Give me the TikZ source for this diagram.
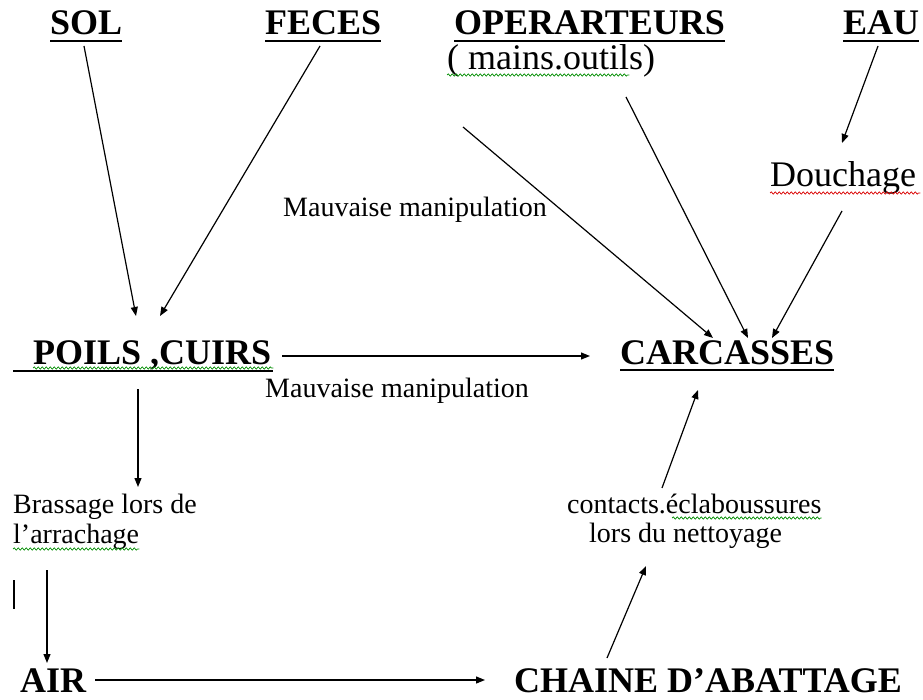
\documentclass[tikz,border=0pt]{standalone}
\usepackage{fontspec}
\setmainfont{Liberation Serif}
\usetikzlibrary{calc,arrows.meta,decorations.pathmorphing}
\tikzset{
  lbl/.style={inner sep=0pt, anchor=base west},
  head/.style={lbl, font=\fontsize{36}{40}\selectfont\bfseries},
  big/.style={lbl, font=\fontsize{36}{40}\selectfont},
  small/.style={lbl, font=\fontsize{28}{32}\selectfont},
  ul/.style={line width=2.4pt},
  arr/.style={line width=1.2pt, -{Triangle[length=9pt,width=7pt]}},
  wavy/.style={line width=0.7pt, decorate, decoration={snake, amplitude=1.1pt, segment length=4pt}},
}
\begin{document}
\begin{tikzpicture}[x=1pt,y=-1pt]
\useasboundingbox (0,0) rectangle (923,700);
% nodes
\node[head] (sol) at (50,35) {SOL};
\node[head] (feces) at (265,35) {FECES};
\node[head] (oper) at (454,35) {OPERARTEURS};
\node[big] (mains) at (447,70) {( mains.outils)};
\node[head] (eau) at (843,35) {EAU};
\node[big] (douch) at (770,187) {Douchage};
\node[small] (mm1) at (283,217) {Mauvaise manipulation};
\node[head] (poils) at (33,364) {POILS ,CUIRS};
\node[head] (carc) at (620,364) {CARCASSES};
\node[small] (mm2) at (265,397) {Mauvaise manipulation};
\node[small] (bras1) at (13,513) {Brassage lors de};
\node[small] (bras2) at (13,543) {l’arrachage};
\node[small] (cont1) at (567,513) {contacts.éclaboussures};
\node[small] (cont2) at (589,542) {lors du nettoyage};
\node[head] (air) at (20,692) {AIR};
\node[head] (chaine) at (514,692) {CHAINE D’ABATTAGE};
% underlines
\foreach \n in {sol,feces,oper,eau,carc}
  \draw[ul] ($(\n.base west)+(0,6)$) -- ($(\n.base east)+(0,6)$);
\draw[ul] ($(poils.base west)+(-20,7)$) -- ($(poils.base east)+(2,7)$);
% spell-check wavy lines
\draw[wavy, green!55!black] ($(mains.base west)+(0,5)$) -- ($(mains.base east)+(-26,5)$);
\draw[wavy, green!55!black] ($(poils.base west)+(0,4)$) -- ($(poils.base east)+(2,4)$);
\draw[wavy, red!85!black] ($(douch.base west)+(0,6)$) -- ($(douch.base east)+(4,6)$);
\draw[wavy, green!55!black] ($(bras2.base west)+(0,6)$) -- ($(bras2.base east)+(0,6)$);
\draw[wavy, green!55!black] ($(cont1.base west)+(105,5)$) -- ($(cont1.base east)+(0,5)$);
% connector end points
\coordinate (solA) at (84,46);   \coordinate (solB) at (136,316);
\coordinate (fecA) at (320,46);  \coordinate (fecB) at (160,316);
\coordinate (op1A) at (463,127); \coordinate (op1B) at (713,338);
\coordinate (op2A) at (626,97);  \coordinate (op2B) at (748,338);
\coordinate (eauA) at (878,46);  \coordinate (eauB) at (842,143);
\coordinate (douA) at (842,211); \coordinate (douB) at (772,338);
\coordinate (poA) at (282,356);  \coordinate (poB) at (590,356);
\coordinate (pdA) at (138,389);  \coordinate (pdB) at (138,487);
\coordinate (brA) at (47,570);   \coordinate (brB) at (47,663);
\coordinate (aiA) at (95,680);   \coordinate (aiB) at (485,680);
\coordinate (chA) at (607,658);  \coordinate (chB) at (646,566);
\coordinate (coA) at (662,488);  \coordinate (coB) at (698,390);
\coordinate (barA) at (14,580);  \coordinate (barB) at (14,609);
% connectors
\draw[arr] (solA) -- (solB);
\draw[arr] (fecA) -- (fecB);
\draw[arr] (op1A) -- (op1B);
\draw[arr] (op2A) -- (op2B);
\draw[arr] (eauA) -- (eauB);
\draw[arr] (douA) -- (douB);
\draw[arr] (poA) -- (poB);
\draw[arr] (pdA) -- (pdB);
\draw[arr] (brA) -- (brB);
\draw[arr] (aiA) -- (aiB);
\draw[arr] (chA) -- (chB);
\draw[arr] (coA) -- (coB);
\draw[line width=2.6pt] (barA) -- (barB);
\end{tikzpicture}
\end{document}
